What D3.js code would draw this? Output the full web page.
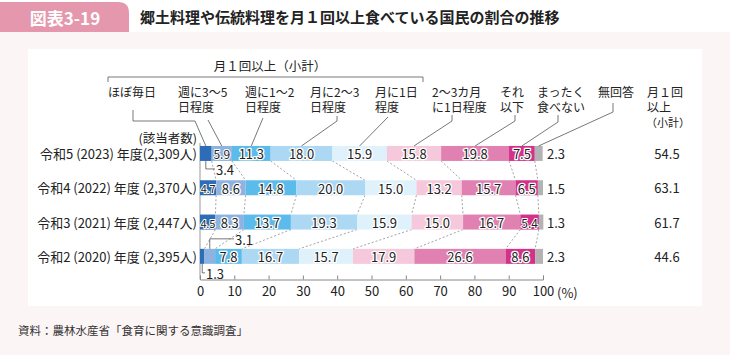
<!DOCTYPE html>
<html><head><meta charset="utf-8">
<script src="https://cdn.jsdelivr.net/npm/d3@7"></script>
<style>
body{margin:0;padding:0;background:#fff;}
svg{display:block;font-family:"Noto Sans CJK JP","Noto Sans",sans-serif;}
</style></head>
<body>
<svg id="chart" width="730" height="355"></svg>
<script>
// ---- data ----
const categories = ["ほぼ毎日","週に3〜5日程度","週に1〜2日程度","月に2〜3日程度","月に1日程度","2〜3カ月に1日程度","それ以下","まったく食べない","無回答"];
const categoryLines = [["ほぼ毎日"],["週に3〜5","日程度"],["週に1〜2","日程度"],["月に2〜3","日程度"],["月に1日","程度"],["2〜3カ月","に1日程度"],["それ","以下"],["まったく","食べない"],["無回答"]];
const rowLabels = ["令和5 (2023) 年度(2,309人)","令和4 (2022) 年度 (2,370人)","令和3 (2021) 年度 (2,447人)","令和2 (2020) 年度 (2,395人)"];
const values2023 = [3.4, 5.9, 11.3, 18.0, 15.9, 15.8, 19.8, 7.5, 2.3];
const values2022 = [4.7, 8.6, 14.8, 20.0, 15.0, 13.2, 15.7, 6.5, 1.5];
const values2021 = [4.5, 8.3, 13.7, 19.3, 15.9, 15.0, 16.7, 5.4, 1.3];
const values2020 = [1.3, 3.1, 7.8, 16.7, 15.7, 17.9, 26.6, 8.6, 2.3];
const subtotals = [54.5, 63.1, 61.7, 44.6];
const tickValues = [0,10,20,30,40,50,60,70,80,90,100];
const titleText = "郷土料理や伝統料理を月１回以上食べている国民の割合の推移";
const figLabel = "図表3-19";
const sourceText = "資料：農林水産省「食育に関する意識調査」";

// ---- styles / layout ----
const colors = ["#2d6db7","#8fb3e0","#5bbbea","#acd8f3","#dff1fb","#f5c8db","#e081b2","#d3318a","#b3b3b3"];
const labelLeft = [108,178,245,310,375,432,500,537,598];
const leaderStart = [[[133,110],[133,121],[195,121]],[[208,120]],[[263,118]],[[337,116],[337,121]],[[388,117]],[[452,115],[452,121]],[[515,115],[515,121]],[[558,115],[558,122]],[[613,103],[613,112]]];

const allRows = [values2023, values2022, values2021, values2020];
const svg = d3.select("#chart");

// background
svg.append("rect").attr("width",730).attr("height",355).attr("fill","#fcf5f5");
svg.append("rect").attr("width",730).attr("height",32).attr("fill","#ffffff");
svg.append("path").attr("d","M0,2 H118 Q129,2 129,13 V32 H0 Z").attr("fill","#e497ad");
svg.append("text").attr("x",65).attr("y",17).attr("text-anchor","middle").attr("dominant-baseline","central")
  .attr("fill","#fff").attr("font-size",17).attr("font-weight",700).text(figLabel);
svg.append("text").attr("x",140).attr("y",16).attr("dominant-baseline","central")
  .attr("fill","#222").attr("font-size",15).attr("font-weight",700).text(titleText);
svg.append("rect").attr("x",28).attr("y",49).attr("width",674).attr("height",257).attr("fill","#fff");
svg.append("text").attr("x",18).attr("y",330).attr("dominant-baseline","central")
  .attr("fill","#333").attr("font-size",11.5).text(sourceText);

// scales
const x = d3.scaleLinear().domain([0,100]).range([200,543]);
const y = d3.scaleBand().domain(rowLabels).range([136.3,273.5]).padding(0);
const barH = 15;
const yc = d => y(d) + y.bandwidth()/2;

// stacked data
const stacked = allRows.map((vals,i) => {
  let c = 0;
  return vals.map((v,j) => { const s = {row:rowLabels[i], ri:i, ci:j, v, x0:c, x1:c+v}; c += v; return s; });
});

// y axis line
svg.append("line").attr("x1",x(0)).attr("x2",x(0)).attr("y1",143).attr("y2",279.5).attr("stroke","#999").attr("stroke-width",1);

// dotted connectors
const conn = svg.append("g");
for (let i=0;i<stacked.length-1;i++){
  for (let k=0;k<8;k++){
    conn.append("line")
      .attr("x1",x(stacked[i][k].x1)).attr("y1",yc(rowLabels[i])+barH/2)
      .attr("x2",x(stacked[i+1][k].x1)).attr("y2",yc(rowLabels[i+1])-barH/2)
      .attr("stroke","#999").attr("stroke-width",0.9).attr("stroke-dasharray","2,2");
  }
}

// bars
const g = svg.append("g");
stacked.forEach(row => {
  g.selectAll(null).data(row).enter().append("rect")
    .attr("x",d=>x(d.x0)).attr("y",d=>yc(d.row)-barH/2)
    .attr("width",d=>x(d.x1)-x(d.x0)).attr("height",barH)
    .attr("fill",d=>colors[d.ci]);
});

// value labels inside
const outside = (d) => d.ci===8 || (d.ri===0 && d.ci===0) || (d.ri===3 && (d.ci===0||d.ci===1));
stacked.forEach(row => {
  const inside = row.filter(d=>!outside(d));
  g.selectAll(null).data(inside).enter().append("text")
    .attr("x",d=>x((d.x0+d.x1)/2)).attr("y",d=>yc(d.row)+0.5)
    .attr("text-anchor","middle").attr("dominant-baseline","central")
    .attr("font-size",d=>d.v<5?11:(d.v<6?12:13)).attr("fill","#222")
    .attr("letter-spacing",d=>d.v<5?-0.2:0)
    .attr("stroke","#fff").attr("stroke-width",d=>d.v<6?2:2.6).attr("paint-order","stroke").attr("stroke-linejoin","round")
    .text(d=>d.v.toFixed(1));
  const last = row[8];
  g.append("text").attr("x",x(100)+4).attr("y",yc(last.row)+0.5).attr("dominant-baseline","central")
    .attr("font-size",13).attr("fill","#222").text(last.v.toFixed(1));
});

// outside annotations
const ann = svg.append("g").attr("fill","none").attr("stroke","#555").attr("stroke-width",0.8);
function annot(d, dir, yOff, xEnd){
  const cx = x((d.x0+d.x1)/2);
  const yb = dir>0 ? yc(d.row)+barH/2 : yc(d.row)-barH/2;
  const yl = yb + dir*yOff;
  ann.append("path").attr("d",`M${cx},${yb}V${yl}H${xEnd}`);
  svg.append("text").attr("x",xEnd+1).attr("y",yl+0.5).attr("dominant-baseline","central")
    .attr("font-size",13).attr("fill","#222").text(d.v.toFixed(1));
}
annot(stacked[0][0], 1, 8, 215);
annot(stacked[3][1], -1, 10, 234);
annot(stacked[3][0], 1, 9, 205);

// axis
const axis = d3.axisBottom(x).tickValues(tickValues).tickSize(-4).tickPadding(7).tickFormat(d3.format("d"));
const ax = svg.append("g").attr("transform","translate(0,279.5)").call(axis);
ax.select(".domain").attr("stroke","#888");
ax.selectAll(".tick line").attr("stroke","#888");
ax.selectAll(".tick text").attr("font-size",13).attr("fill","#222").attr("font-family","Noto Sans CJK JP");
svg.append("text").attr("x",x(100)+14).attr("y",292).attr("dominant-baseline","central")
  .attr("font-size",13).attr("fill","#222").text("(%)");

// row labels
svg.selectAll(".rl").data(rowLabels).enter().append("text")
  .attr("x",197).attr("y",d=>yc(d)).attr("text-anchor","end").attr("dominant-baseline","central")
  .attr("font-size",13).attr("fill","#222").text(d=>d);
svg.append("text").attr("x",197).attr("y",137).attr("text-anchor","end").attr("dominant-baseline","central")
  .attr("font-size",12.5).attr("fill","#222").text("(該当者数)");

// subtotal column
svg.selectAll(".st").data(subtotals).enter().append("text")
  .attr("x",667).attr("y",(d,i)=>yc(rowLabels[i])).attr("text-anchor","middle").attr("dominant-baseline","central")
  .attr("font-size",13).attr("fill","#222").text(d=>d.toFixed(1));
const stHead = svg.append("text").attr("font-size",12).attr("fill","#222");
stHead.append("tspan").attr("x",647).attr("y",91.5).attr("dominant-baseline","central").text("月１回");
stHead.append("tspan").attr("x",647).attr("y",106).attr("dominant-baseline","central").text("以上");
stHead.append("tspan").attr("x",646).attr("y",121.5).attr("dominant-baseline","central").attr("font-size",11).text("（小計）");

// category legend labels
categoryLines.forEach((lines,i) => {
  lines.forEach((t,j) => {
    svg.append("text").attr("x",labelLeft[i]).attr("y",91.5+j*14.5).attr("dominant-baseline","central")
      .attr("font-size",12).attr("fill","#222").text(t);
  });
});
// leader lines to 2023 bar
const lead = svg.append("g").attr("fill","none").attr("stroke","#555").attr("stroke-width",0.8);
const line = d3.line();
stacked[0].forEach((d,i) => {
  const pts = leaderStart[i].concat([[x((d.x0+d.x1)/2), yc(d.row)-barH/2]]);
  lead.append("path").attr("d",line(pts));
});

// bracket
svg.append("path").attr("d","M108,82V77H423V82").attr("fill","none").attr("stroke","#555").attr("stroke-width",0.8);
svg.append("text").attr("x",270).attr("y",65).attr("text-anchor","middle").attr("dominant-baseline","central")
  .attr("font-size",12.5).attr("fill","#222").text("月１回以上（小計）");
</script>
</body></html>
